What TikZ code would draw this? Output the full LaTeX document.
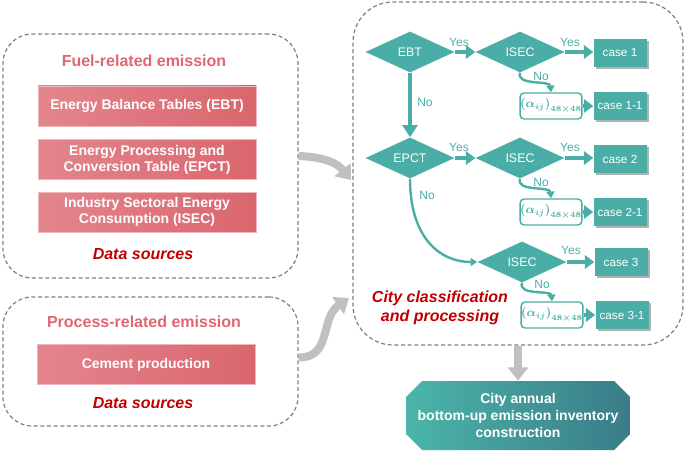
\documentclass[tikz,border=0pt]{standalone}
\usepackage{fontspec}
\setmainfont{Liberation Sans}
\usetikzlibrary{arrows.meta,shapes.geometric,shapes.misc,shadows,calc}
\definecolor{teal1}{HTML}{4AAEA6}
\definecolor{pinkT}{HTML}{E0666F}
\definecolor{pinkA}{HTML}{E4858E}
\definecolor{pinkB}{HTML}{DA666D}
\definecolor{dred}{HTML}{C00000}
\definecolor{grayA}{HTML}{C0C0C0}
\definecolor{dashG}{HTML}{7F7F7F}
\definecolor{outA}{HTML}{4BB5A9}
\definecolor{outB}{HTML}{3A7C88}
\begin{document}
\begin{tikzpicture}[x=0.75pt,y=-0.75pt,
  dashbox/.style={draw=dashG, dash pattern=on 3pt off 2pt, line width=0.9pt, inner sep=0pt},
  title/.style={text=pinkT, font=\fontsize{12}{14}\selectfont\bfseries},
  dsrc/.style={text=dred, font=\fontsize{12}{14.25}\selectfont\bfseries\itshape, align=center},
  pinkbox/.style={left color=pinkA, right color=pinkB, draw=pinkA!60!white, line width=0.4pt, text=white,
     font=\fontsize{10.5}{12}\selectfont\bfseries, align=center, minimum width=163.5pt, minimum height=30pt, inner sep=0pt},
  dia/.style={diamond, fill=teal1, text=white, minimum width=66.75pt, minimum height=30.75pt, inner sep=0pt, aspect=2.2,
     font=\fontsize{9.3}{11}\selectfont},
  casebox/.style={fill=teal1, text=white, minimum width=39.75pt, minimum height=21pt, inner sep=0pt,
     font=\fontsize{8.8}{10}\selectfont, drop shadow={shadow xshift=1.6pt, shadow yshift=-1.6pt, fill=black!55, opacity=0.55}},
  alphabox/.style={draw=teal1, line width=1.1pt, fill=white, rounded corners=3pt, minimum width=34.5pt, minimum height=19.5pt,
     inner sep=0pt, text=teal1, font=\fontsize{9}{10}\selectfont\boldmath},
  lbl/.style={text=teal1, font=\fontsize{9}{10}\selectfont, inner sep=0pt},
  yarrow/.style={draw=teal1, line width=3pt, -{Triangle[length=7pt,width=10pt]}},
  varrow/.style={draw=teal1, line width=3pt, -{Triangle[length=9pt,width=11pt]}},
  carrow/.style={draw=teal1, line width=1.8pt, -{Triangle[length=5pt,width=6pt]}},
  garrow/.style={draw=grayA, line width=6pt, -{Triangle[length=10pt,width=15pt]}},
]
\useasboundingbox (0,0) rectangle (685,453);

% left boxes
\node[dashbox, rounded corners=22pt, minimum width=221.25pt, minimum height=183pt] (fuel) at (150.5,156) {};
\node[title] (fueltitle) at (144,61) {Fuel-related emission};
\node[pinkbox] (ebtsrc) at (147,106) {Energy Balance Tables (EBT)};
\node[pinkbox] (epctsrc) at (147,159.5) {Energy Processing and\\Conversion Table (EPCT)};
\node[pinkbox] (isecsrc) at (147,212) {Industry Sectoral Energy\\Consumption (ISEC)};
\node[dsrc] (ds1) at (143,254) {Data sources};

\node[dashbox, rounded corners=22pt, minimum width=221.25pt, minimum height=96.75pt] (proc) at (150.5,361.5) {};
\node[title] (proctitle) at (144,322) {Process-related emission};
\node[pinkbox] (cement) at (146,364.5) {Cement production};
\node[dsrc] (ds2) at (143,403) {Data sources};

% right box
\node[dashbox, rounded corners=30pt, minimum width=247.5pt, minimum height=257.25pt] (right) at (518,173.5) {};

% gray arrows
\coordinate (g1) at (351,180);
\coordinate (g2) at (349,298);
\draw[garrow] (fuel.east) .. controls (326,157) and (338,164) .. (g1);
\draw[garrow] ($(proc.east)+(0,-4)$) .. controls (332,358) and (320,318) .. (g2);

% flowchart nodes
\node[dia] (ebt) at (410,52) {EBT};
\node[dia] (isec1) at (520,52) {ISEC};
\node[casebox] (c1) at (620,53) {case 1};
\node[alphabox] (a1) at (551,106) {$\left(\alpha_{ij}\right)_{48\times48}$};
\node[casebox] (c11) at (620,106) {case 1-1};

\node[dia] (epct) at (410,158) {EPCT};
\node[dia] (isec2) at (520,158) {ISEC};
\node[casebox] (c2) at (620,159) {case 2};
\node[alphabox] (a2) at (551,212) {$\left(\alpha_{ij}\right)_{48\times48}$};
\node[casebox] (c21) at (620,212) {case 2-1};

\node[dia] (isec3) at (522,262) {ISEC};
\node[casebox] (c3) at (621,262) {case 3};
\node[alphabox] (a3) at (552,315) {$\left(\alpha_{ij}\right)_{48\times48}$};
\node[casebox] (c31) at (622,315) {case 3-1};

% arrows
\draw[yarrow] (ebt.east) -- (isec1.west);
\draw[yarrow] (isec1.east) -- (c1.west |- isec1.east);
\draw[yarrow] (epct.east) -- (isec2.west);
\draw[yarrow] (isec2.east) -- (c2.west |- isec2.east);
\draw[yarrow] (isec3.east) -- (c3.west |- isec3.east);
\draw[yarrow] (a1.east) -- (c11.west);
\draw[yarrow] (a2.east) -- (c21.west);
\draw[yarrow] (a3.east) -- (c31.west);
\draw[varrow] (ebt.south) -- (epct.north);
\draw[carrow] (isec1.south) .. controls (516,86) and (550,80) .. (a1.north);
\draw[carrow] (isec2.south) .. controls (516,192) and (550,186) .. (a2.north);
\draw[carrow] (isec3.south) .. controls (518,296) and (551,290) .. (a3.north);
\draw[carrow] (epct.south) .. controls (410,238) and (440,262) .. (isec3.west);

% labels
\node[lbl] (y1) at (459,42) {Yes};
\node[lbl] (y2) at (570,42) {Yes};
\node[lbl] (y3) at (459,147) {Yes};
\node[lbl] (y4) at (570,147) {Yes};
\node[lbl] (y5) at (571,250) {Yes};
\node[lbl] (n1) at (425,102) {No};
\node[lbl] (n2) at (541,76) {No};
\node[lbl] (n3) at (541,182) {No};
\node[lbl] (n4) at (427,195) {No};
\node[lbl] (n5) at (542,284) {No};

\node[dsrc] (cityc) at (440,307.5) {City classification\\and processing};

% output
\node[chamfered rectangle, chamfered rectangle xsep=6pt, chamfered rectangle ysep=6pt,
      left color=outA, right color=outB, text=white, minimum width=168pt, minimum height=51.75pt, inner sep=0pt,
      align=center, font=\fontsize{10.5}{12.4}\selectfont\bfseries] (out) at (518,415.5)
      {City annual\\bottom-up emission inventory\\construction};
\draw[garrow] (right.south) -- (out.north);
\end{tikzpicture}
\end{document}
